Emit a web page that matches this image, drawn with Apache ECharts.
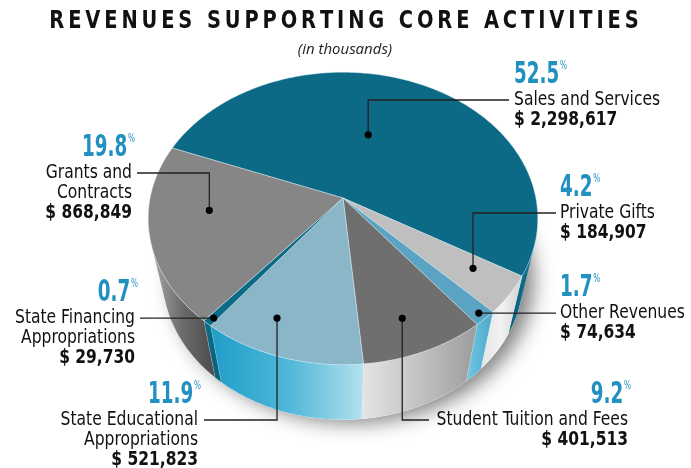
<!DOCTYPE html>
<html><head><meta charset="utf-8">
<script src="https://cdn.jsdelivr.net/npm/echarts@6/dist/echarts.min.js"></script>
<style>html,body{margin:0;padding:0;background:#fff}#chart{width:691px;height:468px}</style>
</head><body><div id="chart"></div>
<script>
// Revenue categories, in clockwise order starting at the back-left edge of the disk
const categories = ['Sales and Services', 'Private Gifts', 'Other Revenues', 'Student Tuition and Fees',
  'State Educational Appropriations', 'State Financing Appropriations', 'Grants and Contracts'];
// Amounts in thousands of dollars
const values = [2298617, 184907, 74634, 401513, 521823, 29730, 868849];
// Category names as they wrap in the callouts
const labelLines = [['Sales and Services'], ['Private Gifts'], ['Other Revenues'], ['Student Tuition and Fees'],
  ['State Educational', 'Appropriations'], ['State Financing', 'Appropriations'], ['Grants and', 'Contracts']];

const titleText = 'REVENUES SUPPORTING CORE ACTIVITIES';
const subtitleText = '(in thousands)';

// Face and wall colours per category
const topColors = ['#0c6a87', '#bfbfbf', '#5aa3c2', '#6f6f6f', '#8ab6c8', '#0c6c88', '#868686'];
const wallColors = [
  ['#0a5f79', '#0d7391'],
  ['#e4e4e4', '#f2f2f2', '#d0d0d0'],
  ['#72c6e2', '#4aa9cc'],
  ['#e4e4e4', '#c2c2c2', '#9c9c9c'],
  ['#1f9ec9', '#4db6d8', '#b3e1ee'],
  ['#0c6f8c', '#0a5d76'],
  ['#a6a6a6', '#6a6a6a', '#4a4a4a']
];

// Perspective camera for the disk: centre on screen, focal length, camera distance,
// tilt (degrees above the plane), disk thickness and angle where the first slice starts
const CAM = { cx: 343, cy: 198, f: 922, D: 4.78, tilt: 48, depth: 0.5, start: 158.5 };

// Callout placement: where the dot sits inside its slice (fraction of the slice angle, radius),
// the elbow of the leader (vy, null for a straight leader), the leader end x and text anchor
const callouts = [
  { frac: 0.45, r: 0.49, vy: 100, hx: 509, tx: 514, align: 'left' },
  { frac: 0.37, r: 0.78, vy: 213, hx: 556, tx: 560, align: 'left' },
  { frac: 0.51, r: 0.96, vy: null, hx: 556, tx: 560, align: 'left' },
  { frac: 0.55, r: 0.80, vy: 420, hx: 429, tx: 628, align: 'right' },
  { frac: 0.64, r: 0.81, vy: 420, hx: 204, tx: 198, align: 'right' },
  { frac: 0.42, r: 0.96, vy: null, hx: 140, tx: 135, align: 'right' },
  { frac: 0.60, r: 0.69, vy: 173, hx: 137, tx: 132, align: 'right' }
];

const FONT = "'DejaVu Sans Condensed','DejaVu Sans',sans-serif";
const PCT_COLOR = '#2290c0';

function proj(deg, r, z) {
  const t = deg * Math.PI / 180, a = CAM.tilt * Math.PI / 180;
  const X = r * Math.cos(t), Y = r * Math.sin(t);
  const s = Math.sin(a), c = Math.cos(a);
  const d = CAM.D + Y * c - z * s;
  return [CAM.cx + CAM.f * X / d, CAM.cy - CAM.f * (Y * s + z * c) / d];
}

const total = values.reduce((a, b) => a + b, 0);
const slices = [];
(function () {
  let a0 = CAM.start;
  values.forEach(v => {
    const span = v / total * 360;
    slices.push({ a0: a0, a1: a0 - span });
    a0 -= span;
  });
})();

// Outer wall faces the camera only where sin(theta) < -1/(D cos(tilt))
const wallLim = Math.asin(1 / (CAM.D * Math.cos(CAM.tilt * Math.PI / 180))) * 180 / Math.PI;
const wallLo = -180 + wallLim, wallHi = -wallLim;

function arc(from, to, r, z) {
  const pts = [];
  const n = Math.max(2, Math.ceil(Math.abs(to - from) / 0.75));
  for (let i = 0; i <= n; i++) pts.push(proj(from + (to - from) * i / n, r, z));
  return pts;
}

// condensed text: glyphs are narrowed around the anchor point
function label(x, y, sx, style) {
  return { type: 'text', z2: 12, x: x, y: y, scaleX: sx, style: Object.assign({ x: 0, y: 0 }, style) };
}

function renderItem(params, api) {
  const i = params.dataIndex;
  const sl = slices[i];
  const children = [];
  // top face
  const top = [proj(0, 0, 0)].concat(arc(sl.a0, sl.a1, 1, 0));
  children.push({
    type: 'polygon', z2: 2,
    shape: { points: top },
    style: { fill: topColors[i], stroke: 'rgba(220,240,248,0.55)', lineWidth: 0.8 }
  });
  // visible part of the outer wall
  const lo = Math.max(sl.a1, wallLo), hi = Math.min(sl.a0, wallHi);
  if (hi > lo) {
    const upper = arc(hi, lo, 1, 0);
    const lower = arc(lo, hi, 1, -CAM.depth);
    const xs = upper.concat(lower).map(p => p[0]);
    const x0 = Math.min.apply(null, xs), x1 = Math.max.apply(null, xs);
    const cs = wallColors[i];
    children.push({
      type: 'polygon', z2: 1,
      shape: { points: upper.concat(lower) },
      style: {
        fill: {
          type: 'linear', global: true, x: x0, y: 0, x2: x1, y2: 0,
          colorStops: cs.map((c, k) => ({ offset: k / (cs.length - 1), color: c }))
        },
        stroke: 'rgba(255,255,255,0.25)', lineWidth: 0.6
      }
    });
  }
  // callout: dot, leader and text
  const co = callouts[i];
  const mid = sl.a0 + (sl.a1 - sl.a0) * co.frac;
  const dot = proj(mid, co.r, 0);
  const ly = co.vy == null ? dot[1] : co.vy;
  const path = co.vy == null ? [dot, [co.hx, ly]] : [dot, [dot[0], ly], [co.hx, ly]];
  children.push({ type: 'polyline', z2: 10, shape: { points: path }, style: { stroke: '#222', lineWidth: 1.3, fill: null } });
  children.push({ type: 'circle', z2: 11, shape: { cx: dot[0], cy: dot[1], r: 3.6 }, style: { fill: '#000' } });

  const pct = (api.value(0) / total * 100).toFixed(1);
  children.push(label(co.tx + (co.align === 'right' ? 3 : 0), ly - 25, 0.68, {
    align: co.align, verticalAlign: 'middle',
    text: '{n|' + pct + '}{s|%}',
    rich: {
      n: { fontFamily: FONT, fontSize: 30, fontWeight: 'bold', fill: PCT_COLOR, lineHeight: 30 },
      s: { fontFamily: FONT, fontSize: 12, fill: PCT_COLOR, verticalAlign: 'top', lineHeight: 30, padding: [0, 0, 12, 1] }
    }
  }));
  const lines = labelLines[i];
  lines.forEach((t, k) => {
    children.push(label(co.tx, ly + 20 * k, 0.91, {
      text: t, align: co.align, verticalAlign: 'middle', fontFamily: FONT, fontSize: 19, fill: '#111'
    }));
  });
  children.push(label(co.tx, ly + 20 * lines.length, 0.86, {
    text: '$ ' + api.value(0).toLocaleString('en-US'), align: co.align, verticalAlign: 'middle',
    fontFamily: FONT, fontSize: 20, fontWeight: 'bold', fill: '#111'
  }));
  return { type: 'group', children: children };
}

// soft shadow under the disk
function renderShadow() {
  const base = arc(-180, 180, 1, -CAM.depth);
  return {
    type: 'polygon', z2: -1, shape: { points: base },
    style: { fill: '#fff', shadowBlur: 20, shadowColor: 'rgba(0,0,0,0.5)', shadowOffsetX: 10, shadowOffsetY: 3 }
  };
}

const chart = echarts.init(document.getElementById('chart'), null, { renderer: 'canvas' });
chart.setOption({
  backgroundColor: '#fff',
  animation: false,
  graphic: [
    {
      type: 'text', x: 344, y: 22, scaleX: 0.9,
      style: {
        text: titleText.split('').join('\u2009'), align: 'center', verticalAlign: 'middle',
        fontFamily: FONT, fontWeight: 'bold', fontSize: 24, fill: '#111'
      }
    },
    {
      type: 'text', x: 345, y: 50,
      style: {
        text: subtitleText, align: 'center', verticalAlign: 'middle',
        fontFamily: "'Open Sans',sans-serif", fontStyle: 'italic', fontSize: 15, fill: '#222'
      }
    }
  ],
  series: [
    { type: 'custom', coordinateSystem: 'none', silent: true, data: [0], renderItem: renderShadow, z: 1 },
    {
      type: 'custom', coordinateSystem: 'none', silent: true, z: 2,
      data: values.map((v, k) => ({ name: categories[k], value: [v] })),
      renderItem: renderItem
    }
  ]
});
</script>
</body></html>
